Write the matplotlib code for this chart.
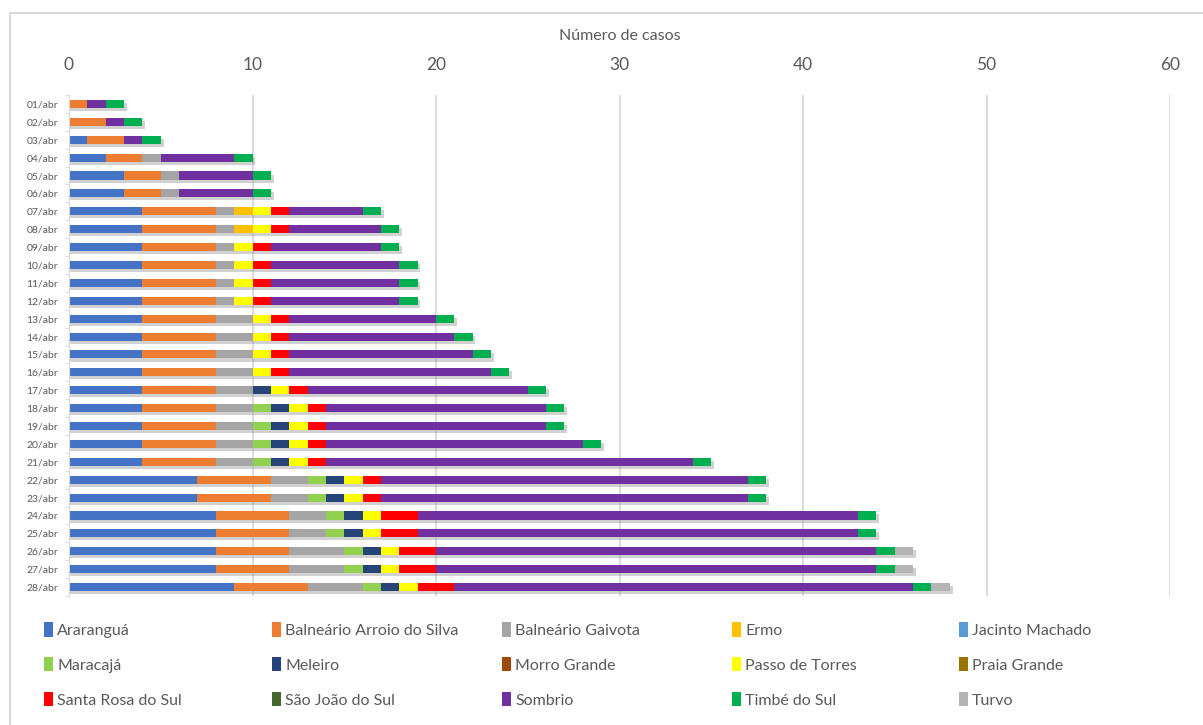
import numpy as np
import matplotlib.pyplot as plt
from matplotlib.patches import Rectangle

plt.rcParams['font.family'] = ['Lato', 'DejaVu Sans']

dias = ['%02d/abr' % d for d in range(1, 29)]

municipios = ['Araranguá', 'Balneário Arroio do Silva', 'Balneário Gaivota', 'Ermo',
              'Jacinto Machado', 'Maracajá', 'Meleiro', 'Morro Grande',
              'Passo de Torres', 'Praia Grande', 'Santa Rosa do Sul',
              'São João do Sul', 'Sombrio', 'Timbé do Sul', 'Turvo']

cores = ['#4472C4', '#ED7D31', '#A5A5A5', '#FFC000', '#5B9BD5', '#92D050',
         '#264478', '#9E480E', '#FFFF00', '#997300', '#FF0000', '#43682B',
         '#7030A0', '#00B050', '#B4B4B4']

# casos por dia (01/abr .. 28/abr)
ararangua  = [0, 0, 1, 2, 3, 3, 4, 4, 4, 4, 4, 4, 4, 4, 4, 4, 4, 4, 4, 4, 4, 7, 7, 8, 8, 8, 8, 9]
arroio     = [1, 2, 2, 2, 2, 2, 4, 4, 4, 4, 4, 4, 4, 4, 4, 4, 4, 4, 4, 4, 4, 4, 4, 4, 4, 4, 4, 4]
gaivota    = [0, 0, 0, 1, 1, 1, 1, 1, 1, 1, 1, 1, 2, 2, 2, 2, 2, 2, 2, 2, 2, 2, 2, 2, 2, 3, 3, 3]
ermo       = [0, 0, 0, 0, 0, 0, 1, 1, 0, 0, 0, 0, 0, 0, 0, 0, 0, 0, 0, 0, 0, 0, 0, 0, 0, 0, 0, 0]
jacinto    = [0] * 28
maracaja   = [0, 0, 0, 0, 0, 0, 0, 0, 0, 0, 0, 0, 0, 0, 0, 0, 0, 1, 1, 1, 1, 1, 1, 1, 1, 1, 1, 1]
meleiro    = [0, 0, 0, 0, 0, 0, 0, 0, 0, 0, 0, 0, 0, 0, 0, 0, 1, 1, 1, 1, 1, 1, 1, 1, 1, 1, 1, 1]
morro      = [0] * 28
passo      = [0, 0, 0, 0, 0, 0, 1, 1, 1, 1, 1, 1, 1, 1, 1, 1, 1, 1, 1, 1, 1, 1, 1, 1, 1, 1, 1, 1]
praia      = [0] * 28
santa_rosa = [0, 0, 0, 0, 0, 0, 1, 1, 1, 1, 1, 1, 1, 1, 1, 1, 1, 1, 1, 1, 1, 1, 1, 2, 2, 2, 2, 2]
sao_joao   = [0] * 28
sombrio    = [1, 1, 1, 4, 4, 4, 4, 5, 6, 7, 7, 7, 8, 9, 10, 11, 12, 12, 12, 14, 20, 20, 20, 24, 24, 24, 24, 25]
timbe      = [1, 1, 1, 1, 1, 1, 1, 1, 1, 1, 1, 1, 1, 1, 1, 1, 1, 1, 1, 1, 1, 1, 1, 1, 1, 1, 1, 1]
turvo      = [0, 0, 0, 0, 0, 0, 0, 0, 0, 0, 0, 0, 0, 0, 0, 0, 0, 0, 0, 0, 0, 0, 0, 0, 0, 1, 1, 1]

series = [ararangua, arroio, gaivota, ermo, jacinto, maracaja, meleiro, morro,
          passo, praia, santa_rosa, sao_joao, sombrio, timbe, turvo]

fig = plt.figure(figsize=(12.03, 7.25), dpi=100)
ax = fig.add_axes([69 / 1203, 1 - 596 / 725, 1101 / 1203, 501 / 725])

y = np.arange(len(dias))
h = 0.45
total = np.sum(np.array(series), axis=0)

# sombra das barras
ax.barh(y + 0.17, total + 0.15, height=h, left=0, color='#9A9A9A', alpha=0.45,
        linewidth=0, zorder=1)

left = np.zeros(len(dias))
handles = []
for nome, vals, cor in zip(municipios, series, cores):
    b = ax.barh(y, vals, height=h, left=left, color=cor, label=nome,
                linewidth=0, zorder=2)
    handles.append(b)
    left = left + np.array(vals)

ax.set_xlim(0, 60)
ax.set_ylim(len(dias) - 0.5, -0.5)
ax.set_xticks(np.arange(0, 61, 10))
ax.set_yticks(y)
ax.set_yticklabels(dias)
ax.set_yticks(np.arange(-0.5, len(dias), 1), minor=True)
ax.xaxis.tick_top()
ax.xaxis.set_label_position('top')
ax.set_xlabel('Número de casos', fontsize=11.5, color='#595959', labelpad=12)
ax.tick_params(axis='x', length=0, labelsize=12.5, labelcolor='#595959', pad=16)
ax.tick_params(axis='y', which='major', length=0, labelsize=7.5, labelcolor='#595959', pad=8)
ax.tick_params(axis='y', which='minor', length=3, color='#D9D9D9')
ax.grid(axis='x', color='#D9D9D9', linewidth=1.3, zorder=0)
ax.set_axisbelow(True)
for s in ['top', 'right', 'bottom']:
    ax.spines[s].set_visible(False)
ax.spines['left'].set_color('#D9D9D9')

# legenda: 5 colunas de 3 linhas, colunas com espacamento fixo
ncol, nrow = 5, 3
col_x = [30, 258, 488, 718, 945]
for c in range(ncol):
    idx = [r * ncol + c for r in range(nrow)]
    leg = fig.legend([handles[i] for i in idx], [municipios[i] for i in idx],
                     loc='upper left', bbox_to_anchor=(col_x[c] / 1203, 1 - 608 / 725),
                     frameon=False, fontsize=11.5, handlelength=0.55, handleheight=1.0,
                     handletextpad=0.25, labelspacing=1.2)
    for t in leg.get_texts():
        t.set_color('#595959')

# moldura do grafico
fig.patches.append(Rectangle((10 / 1203, -0.05), 1.2, 1 - 13 / 725 + 0.05,
                             transform=fig.transFigure, fill=False,
                             edgecolor='#D9D9D9', linewidth=1.5))

fig.savefig('out.png', dpi=100)
